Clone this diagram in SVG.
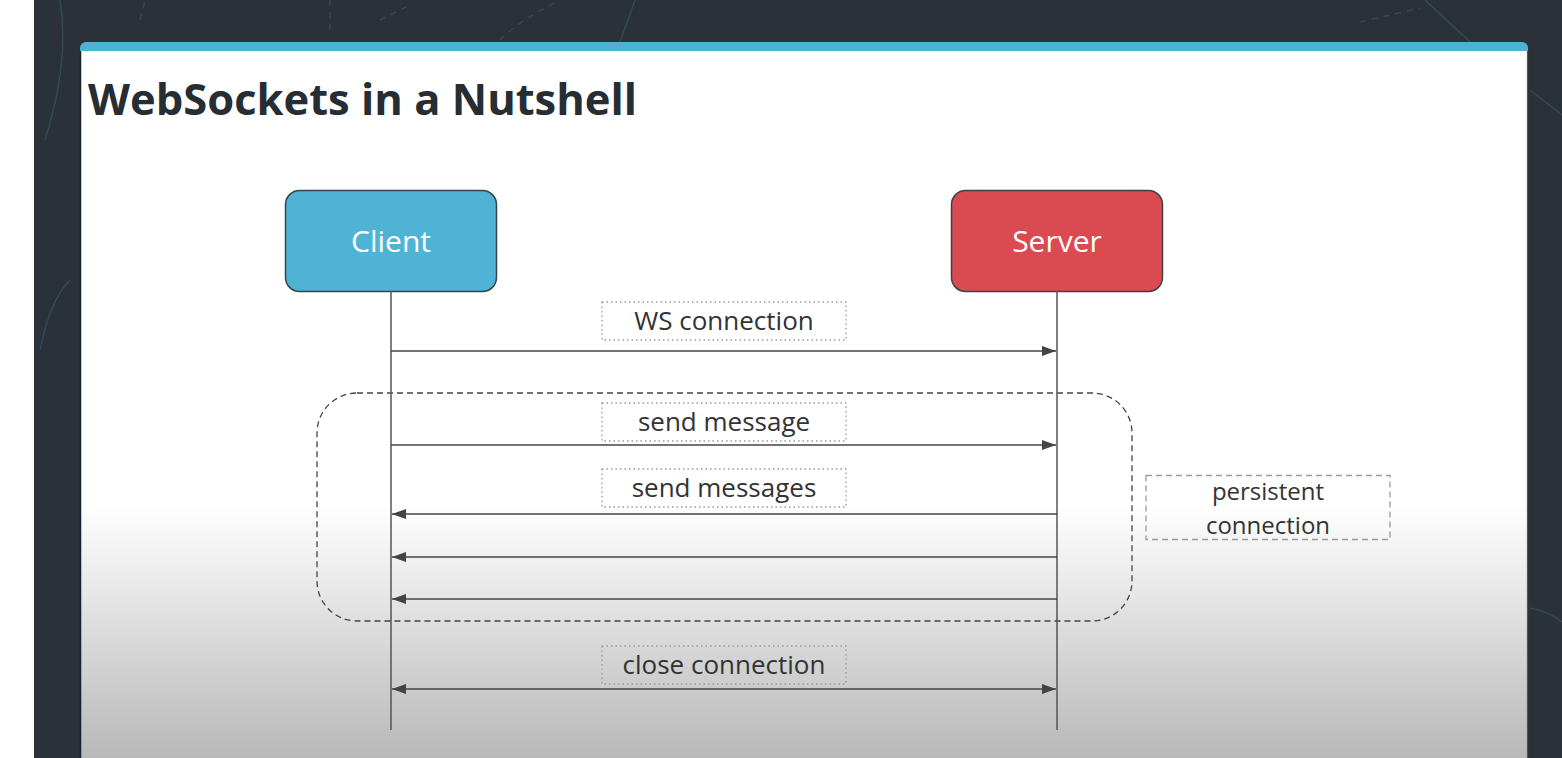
<svg xmlns="http://www.w3.org/2000/svg" width="1562" height="758" viewBox="0 0 1562 758">
<defs>
<linearGradient id="slideGrad" x1="0" y1="0" x2="0" y2="1" gradientUnits="objectBoundingBox">
<stop offset="0" stop-color="#ffffff"/>
<stop offset="0.64" stop-color="#ffffff"/>
<stop offset="0.72" stop-color="#f0f0f0"/>
<stop offset="1" stop-color="#b8b8b8"/>
</linearGradient>
<marker id="arrEnd" viewBox="0 0 14 10" refX="14" refY="5" markerWidth="14" markerHeight="10" markerUnits="userSpaceOnUse" orient="auto">
<path d="M0,0 L14,5 L0,10 Z" fill="#444"/>
</marker>
<marker id="arrStart" viewBox="0 0 14 10" refX="0" refY="5" markerWidth="14" markerHeight="10" markerUnits="userSpaceOnUse" orient="auto">
<path d="M14,0 L0,5 L14,10 Z" fill="#444"/>
</marker>
</defs>
<style>
.deco{fill:none;stroke:#3c5a63;stroke-width:1.5;opacity:0.6}
.node{stroke:#3a4249;stroke-width:1.5}
.nodeText{font-family:"Open Sans","Noto Sans","Liberation Sans",sans-serif;font-size:30px;fill:#ffffff;text-anchor:middle}
.life{stroke:#555;stroke-width:1.5;fill:none}
.msg{stroke:#444;stroke-width:1.6;fill:none}
.lbox{fill:none;stroke:#9a9a9a;stroke-width:1.3;stroke-dasharray:1.5 3}
.ltext{font-family:"Open Sans","Noto Sans","Liberation Sans",sans-serif;font-size:26px;fill:#333;text-anchor:middle}
.ptext{font-family:"Open Sans","Noto Sans","Liberation Sans",sans-serif;font-size:24px;fill:#333;text-anchor:middle}
.group{fill:none;stroke:#444;stroke-width:1.3;stroke-dasharray:6 4}
.pbox{fill:none;stroke:#9a9a9a;stroke-width:1.3;stroke-dasharray:6 4}
</style>
<rect x="0" y="0" width="1562" height="758" fill="#ffffff"/>
<rect x="34" y="0" width="1528" height="758" fill="#2a3138"/>
<path class="deco" d="M45,140 Q70,60 60,0"/>
<path class="deco" d="M140,20 L145,0" stroke-dasharray="6 6"/>
<path class="deco" d="M330,0 L330,30" stroke-dasharray="6 6"/>
<path class="deco" d="M380,20 L410,5" stroke-dasharray="6 6"/>
<path class="deco" d="M500,40 Q520,20 560,0" stroke-dasharray="6 6"/>
<path class="deco" d="M620,42 L635,0"/>
<path class="deco" d="M1360,22 L1420,8" stroke-dasharray="6 6"/>
<path class="deco" d="M1425,0 L1470,42"/>
<path class="deco" d="M1530,90 L1562,115"/>
<path class="deco" d="M1530,608 Q1550,612 1562,622"/>
<path class="deco" d="M40,350 Q50,300 70,280"/>
<rect x="80" y="42" width="1448" height="716" rx="6" fill="#4fb1d4"/>
<rect x="80" y="51" width="1448" height="707" fill="url(#slideGrad)"/>
<line x1="80.5" y1="51" x2="80.5" y2="758" stroke="#1a2030" stroke-width="1.5"/>
<line x1="1527.5" y1="51" x2="1527.5" y2="758" stroke="#555" stroke-width="1.2"/>
<text x="88" y="115" font-family="'Open Sans','Noto Sans','Liberation Sans',sans-serif" font-size="43.5" font-weight="700" fill="#262d33">WebSockets in a Nutshell</text>

<g id="client">
<rect class="node" x="285.5" y="190.5" width="211" height="101" rx="14" fill="#4fb3d6"/>
<text class="nodeText" x="391" y="252">Client</text>
</g>
<g id="server">
<rect class="node" x="951.5" y="190.5" width="211" height="101" rx="14" fill="#dc4a51"/>
<text class="nodeText" x="1057" y="252">Server</text>
</g>

<g id="persistent-group">
<rect class="group" x="317" y="393" width="815" height="228" rx="40"/>
</g>
<g id="persistent-label">
<rect class="pbox" x="1146" y="475.5" width="244" height="64"/>
<text class="ptext" x="1268" y="500">persistent</text>
<text class="ptext" x="1268" y="533.5">connection</text>
</g>

<g id="connectors">
<line class="life" x1="391" y1="291" x2="391" y2="730"/>
<line class="life" x1="1057" y1="291" x2="1057" y2="730"/>
<line class="msg" x1="391" y1="351" x2="1056" y2="351" marker-end="url(#arrEnd)"/>
<line class="msg" x1="391" y1="445" x2="1056" y2="445" marker-end="url(#arrEnd)"/>
<line class="msg" x1="1057" y1="514" x2="392" y2="514" marker-end="url(#arrEnd)"/>
<line class="msg" x1="1057" y1="557" x2="392" y2="557" marker-end="url(#arrEnd)"/>
<line class="msg" x1="1057" y1="599" x2="392" y2="599" marker-end="url(#arrEnd)"/>
<line class="msg" x1="392" y1="689" x2="1056" y2="689" marker-start="url(#arrStart)" marker-end="url(#arrEnd)"/>
</g>

<g id="label-ws">
<rect class="lbox" x="602" y="302" width="244" height="38"/>
<text class="ltext" x="724" y="330">WS connection</text>
</g>
<g id="label-send">
<rect class="lbox" x="602" y="403" width="244" height="38"/>
<text class="ltext" x="724" y="431">send message</text>
</g>
<g id="label-sends">
<rect class="lbox" x="602" y="469" width="244" height="38"/>
<text class="ltext" x="724" y="497">send messages</text>
</g>
<g id="label-close">
<rect class="lbox" x="602" y="646" width="244" height="38"/>
<text class="ltext" x="724" y="674">close connection</text>
</g>
</svg>
